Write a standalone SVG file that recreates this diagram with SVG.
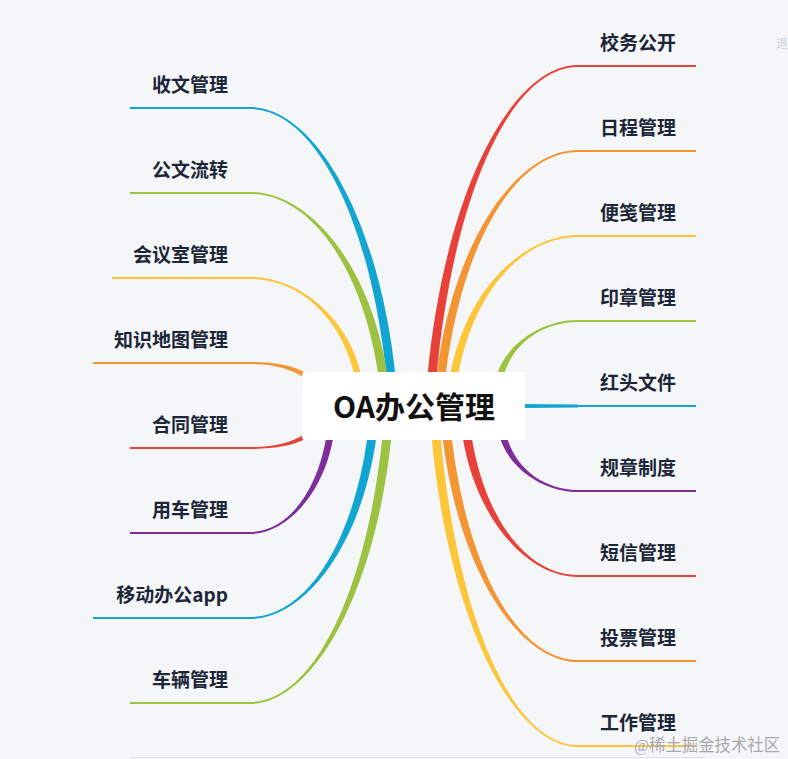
<svg xmlns="http://www.w3.org/2000/svg" width="788" height="759" viewBox="0 0 788 759">
<defs>
<style>
.lbl{font-family:"Noto Sans CJK SC","Noto Sans",sans-serif;font-size:19px;font-weight:700;fill:#1c2638}
.r{text-anchor:start}
.l{text-anchor:end}
.ln{fill:none;stroke-width:2;stroke-linecap:butt}
.red{fill:#e8413a;stroke:#e8413a}
.org{fill:#f39532;stroke:#f39532}
.yel{fill:#fcc53a;stroke:#fcc53a}
.grn{fill:#9dc241;stroke:#9dc241}
.blu{fill:#11a5d2;stroke:#11a5d2}
.pur{fill:#7d2e9b;stroke:#7d2e9b}
.br{stroke:none}
</style>
</defs>
<rect x="0" y="0" width="788" height="759" fill="#f5f6f8"/>
<line x1="130" y1="757.5" x2="705" y2="757.5" stroke="#dfe0e3" stroke-width="1"/>
<g id="connectors">
<path class="blu br" d="M250,107 C313.5,107 378.6,215.2 395.5,376 L386.5,376 C369.6,215.2 313.5,109 250,109Z"/>
<line class="ln blu" x1="130" y1="108" x2="251" y2="108"/>
<path class="grn br" d="M250,192 C309.9,192 371.5,266.2 387.5,376 L378.5,376 C362.5,266.2 309.9,194 250,194Z"/>
<line class="ln grn" x1="130" y1="193" x2="251" y2="193"/>
<path class="yel br" d="M250,277 C298.6,277 348.5,317.2 361.5,376 L354.5,376 C341.5,317.2 298.6,279 250,279Z"/>
<line class="ln yel" x1="112" y1="278" x2="251" y2="278"/>
<path class="org br" d="M250,362 C274,362 293,365 307.3,373.9 L304.7,378.1 C291,369 274,364 250,364Z"/>
<line class="ln org" x1="93" y1="363" x2="251" y2="363"/>
<path class="red br" d="M250,449 C274,449 293,446 307.3,438.1 L304.7,433.9 C291,443 274,447 250,447Z"/>
<line class="ln red" x1="130" y1="448" x2="251" y2="448"/>
<path class="pur br" d="M250,534 C286,534 323.9,494.2 333.5,436 L326.5,436 C316.9,494.2 286,532 250,532Z"/>
<line class="ln pur" x1="130" y1="533" x2="251" y2="533"/>
<path class="blu br" d="M250,619 C304.9,619 361.9,545.2 376.5,436 L367.5,436 C352.9,545.2 304.9,617 250,617Z"/>
<line class="ln blu" x1="93" y1="618" x2="251" y2="618"/>
<path class="grn br" d="M250,704 C311.7,704 375.1,596.2 391.5,436 L382.5,436 C366.1,596.2 311.7,702 250,702Z"/>
<line class="ln grn" x1="130" y1="703" x2="251" y2="703"/>
<path class="red br" d="M578,65 C512.3,65 445,190 427.5,376 L436.5,376 C454,190 512.3,67 578,67Z"/>
<line class="ln red" x1="577" y1="66" x2="696" y2="66"/>
<path class="org br" d="M578,150 C516.4,150 452.9,241 436.5,376 L445.5,376 C461.9,241 516.4,152 578,152Z"/>
<line class="ln org" x1="577" y1="151" x2="696" y2="151"/>
<path class="yel br" d="M578,235 C522.2,235 464.9,292 450,376 L458,376 C472.9,292 522.2,237 578,237Z"/>
<line class="ln yel" x1="577" y1="236" x2="696" y2="236"/>
<path class="grn br" d="M578,320 C542.9,320 505.9,343 496.5,376 L503.5,376 C512.9,343 542.9,322 578,322Z"/>
<line class="ln grn" x1="577" y1="321" x2="696" y2="321"/>
<path class="blu br" d="M520,404 L578,404.5 L578,407.5 L520,408Z"/>
<line class="ln blu" x1="577" y1="406" x2="696" y2="406"/>
<path class="pur br" d="M578,492 C544.25,492 508.5,469 499.5,436 L506.5,436 C515.5,469 544.25,490 578,490Z"/>
<line class="ln pur" x1="577" y1="491" x2="696" y2="491"/>
<path class="red br" d="M578,577 C528,577 475.8,520 462.5,436 L471.5,436 C484.8,520 528,575 578,575Z"/>
<line class="ln red" x1="577" y1="576" x2="696" y2="576"/>
<path class="org br" d="M578,662 C519,662 458.2,571 442.5,436 L451.5,436 C467.2,571 519,660 578,660Z"/>
<line class="ln org" x1="577" y1="661" x2="696" y2="661"/>
<path class="yel br" d="M578,747 C514.1,747 448.5,622 431.5,436 L440.5,436 C457.5,622 514.1,745 578,745Z"/>
<line class="ln yel" x1="577" y1="746" x2="696" y2="746"/>
</g>
<g id="root">
<rect x="302" y="372" width="223" height="68" rx="3" fill="#ffffff"/>
<text x="414" y="418" text-anchor="middle" style="font-family:'Noto Sans CJK SC','Noto Sans',sans-serif;font-size:30px;font-weight:700;fill:#111111">OA办公管理</text>
</g>
<g id="n-shouwen"><text class="lbl l" x="228" y="92">收文管理</text></g>
<g id="n-gongwen"><text class="lbl l" x="228" y="177">公文流转</text></g>
<g id="n-huiyishi"><text class="lbl l" x="228" y="262">会议室管理</text></g>
<g id="n-zhishi"><text class="lbl l" x="228" y="347">知识地图管理</text></g>
<g id="n-hetong"><text class="lbl l" x="228" y="432">合同管理</text></g>
<g id="n-yongche"><text class="lbl l" x="228" y="517">用车管理</text></g>
<g id="n-yidong"><text class="lbl l" x="228" y="602">移动办公app</text></g>
<g id="n-cheliang"><text class="lbl l" x="228" y="687">车辆管理</text></g>
<g id="n-xiaowu"><text class="lbl r" x="600" y="50">校务公开</text></g>
<g id="n-richeng"><text class="lbl r" x="600" y="135">日程管理</text></g>
<g id="n-bianjian"><text class="lbl r" x="600" y="220">便笺管理</text></g>
<g id="n-yinzhang"><text class="lbl r" x="600" y="305">印章管理</text></g>
<g id="n-hongtou"><text class="lbl r" x="600" y="390">红头文件</text></g>
<g id="n-guizhang"><text class="lbl r" x="600" y="475">规章制度</text></g>
<g id="n-duanxin"><text class="lbl r" x="600" y="560">短信管理</text></g>
<g id="n-toupiao"><text class="lbl r" x="600" y="645">投票管理</text></g>
<g id="n-gongzuo"><text class="lbl r" x="600" y="730">工作管理</text></g>
<text x="776" y="48" style="font-family:'Noto Sans CJK SC',sans-serif;font-size:12px;fill:#cfd0d3">退</text>
<text x="634" y="751" textLength="146" lengthAdjust="spacingAndGlyphs" style="font-family:'Liberation Serif','Noto Sans CJK SC',serif;font-size:17px;fill:#a9a9ab">@稀土掘金技术社区</text>
</svg>
